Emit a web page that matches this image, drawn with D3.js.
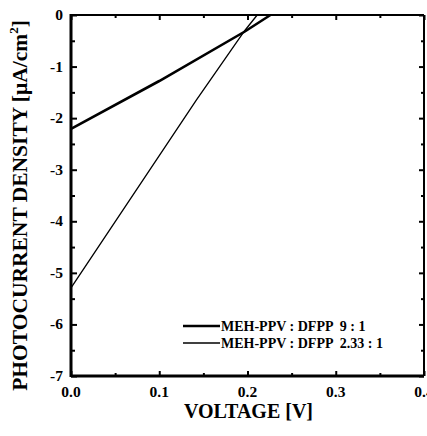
<!DOCTYPE html>
<html>
<head>
<meta charset="utf-8">
<script src="https://cdn.jsdelivr.net/npm/d3@7"></script>
<style>
  body { margin: 0; background: #fff; }
  text { font-family: 'Liberation Serif', 'Times New Roman', serif; font-weight: bold; fill: #000; }
</style>
</head>
<body>
<div id="chart"></div>
<script>
// Series: [voltage, current density]
const ratio91 = [[0, -2.21], [0.1, -1.28], [0.197, -0.32], [0.226, 0]];
const ratio233 = [[0, -5.29], [0.142, -1.65], [0.197, -0.3], [0.211, 0]];
const seriesNames = ['MEH-PPV : DFPP  9 : 1', 'MEH-PPV : DFPP  2.33 : 1'];
const seriesWidths = [2.6, 1.3];
const xTicks = [0, 0.1, 0.2, 0.3, 0.4];
const yTicks = [0, -1, -2, -3, -4, -5, -6, -7];

const W = 427, H = 436;
const margin = { left: 71, right: 3, top: 15, bottom: 60 };
const width = W - margin.left - margin.right;
const height = H - margin.top - margin.bottom;

const svg = d3.select('#chart').append('svg')
  .attr('width', W)
  .attr('height', H);
const g = svg.append('g')
  .attr('transform', 'translate(' + margin.left + ',' + margin.top + ')');

const x = d3.scaleLinear().domain([0, 0.4]).range([0, width]);
const y = d3.scaleLinear().domain([-7, 0]).range([height, 0]);

const minorX = d3.range(0.05, 0.4, 0.1);
const minorY = d3.range(-6.5, 0, 1);

// Ticks (inward, on all four sides)
function ticks(axisFn, scale, values, size, transform) {
  g.append('g')
    .attr('transform', transform)
    .call(axisFn(scale).tickValues(values).tickSize(size).tickFormat(''))
    .call(a => a.select('.domain').remove())
    .selectAll('line').attr('stroke', '#000').attr('stroke-width', 2);
}
ticks(d3.axisTop, x, xTicks, 5, 'translate(0,' + height + ')');
ticks(d3.axisTop, x, minorX, 3, 'translate(0,' + height + ')');
ticks(d3.axisBottom, x, xTicks, 5, 'translate(0,0)');
ticks(d3.axisBottom, x, minorX, 3, 'translate(0,0)');
ticks(d3.axisRight, y, yTicks, 6, 'translate(0,0)');
ticks(d3.axisRight, y, minorY, 4, 'translate(0,0)');
ticks(d3.axisLeft, y, yTicks, 5, 'translate(' + width + ',0)');
ticks(d3.axisLeft, y, minorY, 3, 'translate(' + width + ',0)');

// Frame
g.append('line').attr('x1', 0).attr('x2', width).attr('y1', 0).attr('y2', 0)
  .attr('stroke', '#000').attr('stroke-width', 2);
g.append('line').attr('x1', width).attr('x2', width).attr('y1', 0).attr('y2', height)
  .attr('stroke', '#000').attr('stroke-width', 2);
g.append('line').attr('x1', 0).attr('x2', width).attr('y1', height).attr('y2', height)
  .attr('stroke', '#000').attr('stroke-width', 3);
g.append('line').attr('x1', 0).attr('x2', 0).attr('y1', -1).attr('y2', height + 1)
  .attr('stroke', '#000').attr('stroke-width', 3);

// Tick labels
g.selectAll('.xlab').data(xTicks).enter().append('text')
  .attr('class', 'xlab')
  .attr('x', d => x(d))
  .attr('y', height + 21)
  .attr('text-anchor', 'middle')
  .attr('font-size', '15.5px')
  .text(d => d3.format('.1f')(d));
g.selectAll('.ylab').data(yTicks).enter().append('text')
  .attr('class', 'ylab')
  .attr('x', -8)
  .attr('y', d => y(d) + 5)
  .attr('text-anchor', 'end')
  .attr('font-size', '15.5px')
  .text(d => d);

// Axis titles
g.append('text')
  .attr('x', width / 2 + 1)
  .attr('y', height + 42)
  .attr('text-anchor', 'middle')
  .attr('font-size', '20px')
  .text('VOLTAGE [V]');
const yTitle = g.append('text')
  .attr('transform', 'translate(-44,' + (height / 2 + 10) + ') rotate(-90)')
  .attr('text-anchor', 'middle')
  .attr('font-size', '21.5px');
yTitle.append('tspan').text('PHOTOCURRENT DENSITY [\u03bcA/cm');
yTitle.append('tspan').attr('font-size', '13px').attr('dy', -9).text('2');
yTitle.append('tspan').attr('dy', 9).text(']');

// Lines
const line = d3.line()
  .x(d => x(d[0]))
  .y(d => y(d[1]));
[ratio91, ratio233].forEach((data, i) => {
  g.append('path')
    .attr('d', line(data))
    .attr('fill', 'none')
    .attr('stroke', '#000')
    .attr('stroke-width', seriesWidths[i]);
});

// Legend
const legend = g.append('g').attr('transform', 'translate(' + (183 - margin.left) + ',' + (326 - margin.top) + ')');
seriesNames.forEach((name, i) => {
  legend.append('line')
    .attr('x1', 0).attr('x2', 37)
    .attr('y1', i * 17).attr('y2', i * 17)
    .attr('stroke', '#000')
    .attr('stroke-width', seriesWidths[i]);
  legend.append('text')
    .attr('x', 38)
    .attr('y', i * 17 + 5)
    .attr('font-size', '14px')
    .attr('xml:space', 'preserve')
    .text(name);
});
</script>
</body>
</html>
